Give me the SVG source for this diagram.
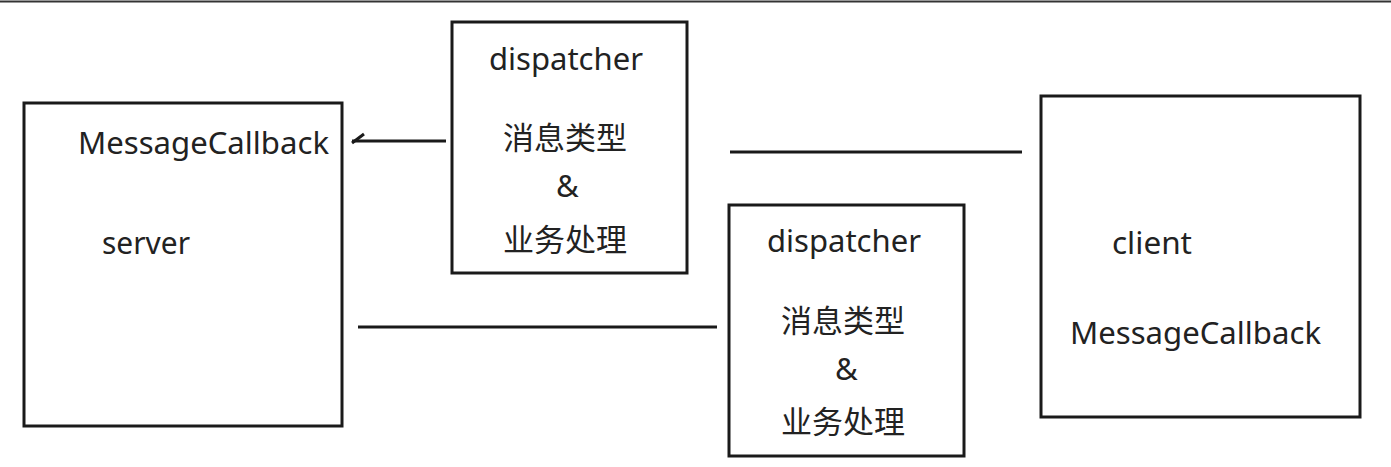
<svg xmlns="http://www.w3.org/2000/svg" width="1391" height="467" viewBox="0 0 1391 467">
<style>
.box{fill:#fff;stroke:#1a1a1a;stroke-width:3}
.ln{stroke:#1a1a1a;stroke-width:3;fill:none}
.t{font-family:"Noto Sans","Open Sans","Noto Sans CJK SC",sans-serif;font-size:31px;fill:#222}
.c{font-family:"Noto Sans CJK SC","Noto Sans",sans-serif;font-size:31px;fill:#222}
</style>
<rect width="1391" height="467" fill="#fff"/>
<line x1="0" y1="1.5" x2="1391" y2="1.5" stroke="#333" stroke-width="2"/>
<g id="server">
<rect class="box" x="24" y="103" width="318" height="323"/>
<text class="t" x="78" y="154" textLength="251" lengthAdjust="spacingAndGlyphs">MessageCallback</text>
<text class="t" x="102" y="254" textLength="88" lengthAdjust="spacingAndGlyphs">server</text>
</g>
<g id="dispatcher1">
<rect class="box" x="452" y="22" width="235" height="251"/>
<text class="t" x="489" y="70" textLength="154" lengthAdjust="spacingAndGlyphs">dispatcher</text>
<text class="c" x="503" y="149" textLength="124">消息类型</text>
<text class="t" x="556" y="197">&amp;</text>
<text class="c" x="503" y="251" textLength="124">业务处理</text>
</g>
<g id="dispatcher2">
<rect class="box" x="729" y="205" width="235" height="251"/>
<text class="t" x="767" y="252" textLength="154" lengthAdjust="spacingAndGlyphs">dispatcher</text>
<text class="c" x="781" y="332" textLength="124">消息类型</text>
<text class="t" x="835" y="380">&amp;</text>
<text class="c" x="781" y="433" textLength="124">业务处理</text>
</g>
<g id="client">
<rect class="box" x="1041" y="96" width="319" height="321"/>
<text class="t" x="1112" y="254" textLength="80" lengthAdjust="spacingAndGlyphs">client</text>
<text class="t" x="1070" y="344" textLength="251" lengthAdjust="spacingAndGlyphs">MessageCallback</text>
</g>
<g id="connectors">
<line class="ln" x1="446" y1="141" x2="352" y2="141"/>
<line class="ln" x1="352" y1="143" x2="364" y2="134"/>
<line class="ln" x1="730" y1="152" x2="1022" y2="152"/>
<line class="ln" x1="358" y1="327" x2="717" y2="327"/>
</g>
</svg>
